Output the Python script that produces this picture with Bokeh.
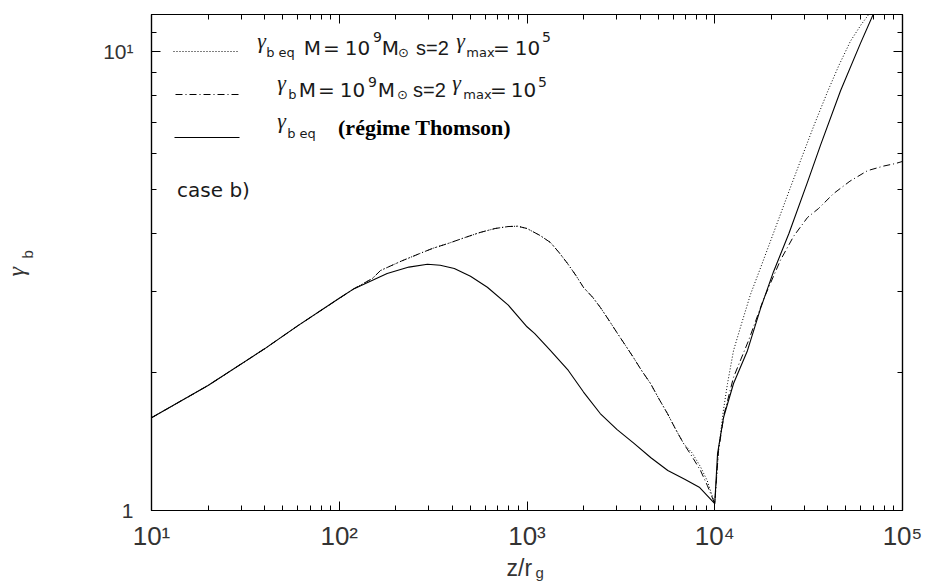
from math import pi
from bokeh.plotting import figure
from bokeh.layouts import column, row
from bokeh.models import LogAxis, FixedTicker, Label, Arrow, Range1d
from bokeh.embed import file_html
from bokeh.resources import INLINE

# ---------------- data ----------------
# solid: gamma_b eq (regime Thomson)
z_thomson = [10, 20, 40, 60, 100, 120, 180, 235, 295, 345, 410, 500, 615, 795,
             1000, 1100, 1320, 1660, 2000, 2455, 3020, 3715, 4571, 5623, 6918, 8318,
             10000, 10350, 11140, 12590, 14930, 17540, 20560, 24830, 31190, 36560,
             46770, 59700, 70150]
gamma_thomson = [1.592, 1.871, 2.249, 2.523, 2.897, 3.041, 3.281, 3.388, 3.436, 3.420,
                 3.365, 3.236, 3.062, 2.799, 2.512, 2.427, 2.239, 2.018, 1.811, 1.626,
                 1.500, 1.400, 1.303, 1.222, 1.169, 1.122, 1.035, 1.330, 1.594, 1.890,
                 2.228, 2.754, 3.311, 4.009, 5.188, 6.237, 8.204, 10.40, 12.08]

# dash-dot: gamma_b  M=1e9 Msun, s=2, gamma_max=1e5
z_gamma_b = [10, 20, 40, 60, 100, 120, 150, 166, 214, 269, 316, 380, 457, 562, 676,
             794, 891, 1000, 1175, 1334, 1479, 1644, 1820, 2000, 2239, 2460, 2754,
             3034, 3350, 3690, 4074, 4550, 5012, 5598, 6166, 6823, 7586, 8395, 9120,
             10000, 10471, 11220, 12589, 15136, 18197, 22387, 26303, 31189, 35727,
             42954, 52481, 65163, 79433, 91833, 100000]
gamma_b = [1.592, 1.871, 2.249, 2.523, 2.897, 3.041, 3.199, 3.331, 3.491, 3.628, 3.724,
           3.814, 3.917, 4.030, 4.111, 4.152, 4.159, 4.111, 3.969, 3.832, 3.648, 3.450,
           3.251, 3.059, 2.911, 2.767, 2.582, 2.429, 2.286, 2.153, 2.018, 1.890, 1.758,
           1.626, 1.507, 1.399, 1.309, 1.222, 1.135, 1.035, 1.349, 1.622, 1.950, 2.344,
           2.884, 3.508, 3.954, 4.345, 4.545, 4.898, 5.212, 5.495, 5.623, 5.695, 5.754]

# dotted: gamma_b eq  M=1e9 Msun, s=2, gamma_max=1e5
z_gamma_eq = [10, 20, 40, 60, 100, 120, 150, 166, 214, 269, 316, 380, 457, 562, 676,
              794, 891, 1000, 1175, 1334, 1479, 1644, 1820, 2000, 2239, 2460, 2754,
              3034, 3350, 3690, 4074, 4550, 5012, 5598, 6166, 6823, 7586, 8395, 9120,
              10000, 10471, 11092, 11695, 12589, 13964, 15488, 17783, 19953, 22387,
              25119, 28840, 33884, 39902, 45709, 52845, 60256, 66681]
gamma_eq = [1.592, 1.871, 2.249, 2.523, 2.897, 3.041, 3.199, 3.331, 3.491, 3.628, 3.724,
            3.814, 3.917, 4.030, 4.111, 4.152, 4.159, 4.111, 3.969, 3.832, 3.648, 3.450,
            3.251, 3.059, 2.911, 2.767, 2.582, 2.429, 2.286, 2.153, 2.018, 1.890, 1.758,
            1.626, 1.507, 1.399, 1.334, 1.245, 1.161, 1.035, 1.352, 1.641, 1.890, 2.230,
            2.570, 2.951, 3.428, 3.890, 4.416, 5.012, 5.821, 6.918, 8.166, 9.290, 10.52,
            11.43, 12.08]

x_major = [10, 100, 1000, 10000, 100000]
x_major_labels = ["10¹", "10²", "10³", "10⁴", "10⁵"]
y_major = [1, 10]
y_major_labels = ["1", "10¹"]

# ---------------- layout geometry (page px) ----------------
W, H = 923, 582
YT_W = 44            # width of the y-title strip
H1 = 554             # height of the plot row
FL, FR, FT, FB = 151, 902, 14, 510   # frame edges on the page

p = figure(width=W - YT_W, height=H1, x_axis_type="log", y_axis_type="log",
           x_range=Range1d(10, 1e5), y_range=Range1d(1, 12.02),
           output_backend="svg", toolbar_location=None,
           min_border_left=FL - YT_W, min_border_right=W - FR, min_border_top=FT,
           min_border_bottom=H1 - FB, background_fill_color="white",
           border_fill_color="white")
p.grid.visible = False
p.outline_line_color = "black"
p.outline_line_width = 1.2

x_minor = [m * d for d in [10, 100, 1000, 10000] for m in range(2, 10)]
y_minor = [2, 3, 4, 5, 6, 7, 8, 9, 11]
TICK = "#333333"


def style_axis(ax, ticks, minor, labels=None, size="0px", standoff=0):
    ax.ticker = FixedTicker(ticks=ticks, minor_ticks=minor)
    ax.major_tick_in = 9
    ax.major_tick_out = 0
    ax.minor_tick_in = 5
    ax.minor_tick_out = 0
    if labels is None:
        ax.major_label_text_color = None
        ax.major_label_text_font_size = "0px"
    else:
        ax.major_label_overrides = {t: s for t, s in zip(ticks, labels)}
        ax.major_label_text_color = TICK
        ax.major_label_text_font = "Liberation Sans"
        ax.major_label_text_font_size = size
    ax.major_label_standoff = standoff
    ax.axis_line_color = "black"
    ax.axis_line_width = 1.2
    ax.major_tick_line_color = "black"
    ax.minor_tick_line_color = "black"
    ax.axis_label = None


style_axis(p.xaxis[0], x_major, x_minor, x_major_labels, "26px", 10)
style_axis(p.yaxis[0], y_major, y_minor, y_major_labels, "21px", 18)
top = LogAxis()
style_axis(top, x_major, x_minor)
p.add_layout(top, "above")
right = LogAxis()
style_axis(right, y_major, y_minor)
p.add_layout(right, "right")

# ---------------- curves ----------------
p.line(z_thomson, gamma_thomson, line_color="black", line_width=1.1)
p.line(z_gamma_b, gamma_b, line_color="black", line_width=1, line_dash="7 3 1 3")
p.line(z_gamma_eq, gamma_eq, line_color="black", line_width=1, line_dash="1 2")

SANS = "DejaVu Sans"
TSANS = "Liberation Sans"
GREEK = "Liberation Serif"
# distance (in em) by which a label's drawn baseline sits below the anchor
BASE_K = {"DejaVu Sans": 0.38, "Liberation Sans": 0.386, "Liberation Serif": 0.432}


def lab(fig, ox, oy, text, px, py, size, color="#1a1a1a", font=SANS, style="normal",
        align="center", angle=0):
    corr = BASE_K[font] * size
    x, y = px - ox, oy - py
    if angle == 0:
        y += corr
    else:
        x -= corr
    fig.add_layout(Label(x=x, y=y, x_units="screen", y_units="screen",
                         text=text, text_font=font, text_font_size=f"{size}px",
                         text_font_style=style, text_color=color, text_align=align,
                         text_baseline="alphabetic", angle=angle))


def plab(text, px, py, size, **kw):
    lab(p, FL, FB, text, px, py, size, **kw)


def sample(px0, px1, py, dash):
    p.add_layout(Arrow(x_start=px0 - FL, y_start=FB - py, x_end=px1 - FL, y_end=FB - py,
                       start_units="screen", end_units="screen", start=None, end=None,
                       line_color="black", line_width=1, line_dash=dash))


# ---------------- legend ----------------
sample(173, 237, 51, "1 2")
sample(175, 238, 94, "7 3 1 3")
sample(174, 239, 137, "solid")

MAIN, SUB, G = 20, 13, 22
# row 1
b = 55
plab("γ", 261, b - 5, G, font=GREEK, style="italic")
plab("b eq", 280, b + 2, SUB)
plab("M", 312, b, MAIN)
plab("=", 331, b, MAIN)
plab("10", 357, b, MAIN)
plab("9", 377, b - 13, 14)
plab("M", 390, b, MAIN)
plab("⊙", 403, b + 2, SUB)
plab("s=2", 432, b, MAIN, font=TSANS)
plab("γ", 460, b - 5, G, font=GREEK, style="italic")
plab("max", 480, b + 2, SUB)
plab("=", 501, b, MAIN)
plab("10", 527, b, MAIN)
plab("5", 546, b - 13, 14)
# row 2
b = 97
plab("γ", 281, b - 5, G, font=GREEK, style="italic")
plab("b", 292, b + 2, SUB)
plab("M", 307, b, MAIN)
plab("=", 326, b, MAIN)
plab("10", 352, b, MAIN)
plab("9", 372, b - 10, 14)
plab("M", 386, b, MAIN)
plab("⊙", 402, b + 2, SUB)
plab("s=2", 429, b, MAIN, font=TSANS)
plab("γ", 456, b - 5, G, font=GREEK, style="italic")
plab("max", 477, b + 2, SUB)
plab("=", 498, b, MAIN)
plab("10", 523, b, MAIN)
plab("5", 542, b - 10, 14)
# row 3
b = 136
plab("γ", 281, b - 6, G, font=GREEK, style="italic")
plab("b eq", 301, b + 2, SUB)
plab("(régime Thomson)", 424, b + 1, 22, color="black", font=GREEK, style="bold")
# row 4
plab("case b)", 213, 197, MAIN)

# ---------------- axis titles (own strips, so they are not clipped) ----------------
ytitle = figure(width=YT_W, height=H1, x_range=Range1d(0, 1), y_range=Range1d(0, 1),
                x_axis_location=None, y_axis_location=None, output_backend="svg",
                toolbar_location=None, min_border=0, outline_line_color=None)
ytitle.grid.visible = False
# this strip's frame is aligned with the plot frame (page y 14..510)
lab(ytitle, 0, FB, "γ", 26, 276, 24, color=TICK, font=GREEK, style="italic",
    align="left", angle=pi / 2)
lab(ytitle, 0, FB, "b", 33, 258, 15, color=TICK, font=TSANS, align="left", angle=pi / 2)

xtitle = figure(width=W, height=H - H1, x_range=Range1d(0, 1), y_range=Range1d(0, 1),
                x_axis_location=None, y_axis_location=None, output_backend="svg",
                toolbar_location=None, min_border=0, outline_line_color=None)
xtitle.grid.visible = False
lab(xtitle, 0, H, "z/r", 506, 576, 23, color=TICK, font=TSANS, align="left")
lab(xtitle, 0, H, "g", 535, 578, 15, color=TICK, font=TSANS, align="left")

layout = column(row(ytitle, p), xtitle)
open("out.html", "w").write(file_html(layout, INLINE))
